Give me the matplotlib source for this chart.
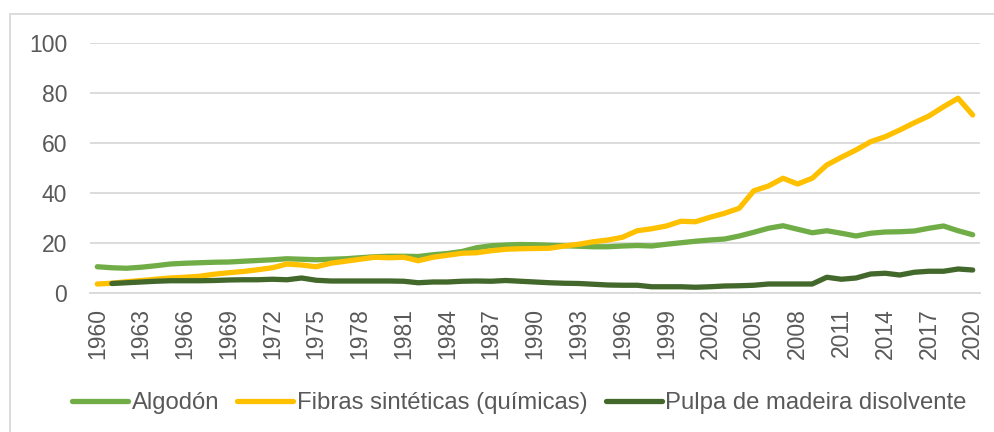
import numpy as np
import matplotlib
matplotlib.use("Agg")
import matplotlib.pyplot as plt
from matplotlib.patches import Rectangle

plt.rcParams['font.family'] = ['Liberation Sans', 'DejaVu Sans']

years = list(range(1960, 2021))

algodon = [10.5, 10.1, 9.9, 10.3, 10.9, 11.6, 11.9, 12.1, 12.3, 12.4,
           12.7, 13.0, 13.3, 13.7, 13.5, 13.3, 13.5, 13.7, 14.1, 14.5,
           14.7, 14.7, 14.6, 15.3, 15.8, 16.6, 18.1, 18.9, 19.2, 19.4,
           19.3, 19.1, 18.9, 18.7, 18.5, 18.5, 18.8, 19.0, 18.8, 19.5,
           20.1, 20.7, 21.2, 21.6, 22.8, 24.3, 25.9, 26.9, 25.5, 24.1,
           24.9, 23.9, 22.8, 23.9, 24.4, 24.5, 24.8, 25.9, 26.8, 24.9,
           23.3]

fibras = [3.6, 3.9, 4.5, 5.0, 5.5, 6.0, 6.3, 6.7, 7.5, 8.1,
          8.6, 9.3, 10.1, 11.6, 11.2, 10.5, 11.9, 12.7, 13.5, 14.3,
          14.1, 14.3, 12.9, 14.3, 15.1, 15.9, 16.1, 16.9, 17.5, 17.7,
          17.8, 17.9, 18.8, 19.5, 20.5, 21.2, 22.3, 24.9, 25.7, 26.8,
          28.7, 28.5, 30.3, 31.9, 33.9, 40.9, 42.8, 45.9, 43.6, 45.9,
          51.2, 54.3, 57.2, 60.5, 62.5, 65.2, 68.1, 70.8, 74.5, 77.9,
          71.2]

pulpa = [np.nan, 3.8, 4.1, 4.4, 4.7, 4.9, 4.9, 4.9, 5.0, 5.2,
         5.3, 5.3, 5.5, 5.3, 6.0, 5.1, 4.8, 4.8, 4.8, 4.8,
         4.8, 4.7, 4.1, 4.4, 4.4, 4.7, 4.8, 4.7, 5.0, 4.7,
         4.4, 4.1, 3.9, 3.8, 3.5, 3.2, 3.1, 3.1, 2.5, 2.5,
         2.5, 2.3, 2.5, 2.8, 2.9, 3.1, 3.6, 3.6, 3.6, 3.6,
         6.3, 5.5, 6.0, 7.6, 7.9, 7.2, 8.3, 8.7, 8.7, 9.6,
         9.2]

series_names = ["Algodón", "Fibras sintéticas (químicas)", "Pulpa de madeira disolvente"]
colors = ["#70AD47", "#FFC000", "#43682B"]
y_ticks = [0, 20, 40, 60, 80, 100]

W, H = 995, 432
fig = plt.figure(figsize=(W / 100, H / 100), dpi=100)
ax = fig.add_axes([90 / W, 1 - 293 / H, 890 / W, 250 / H])

x = np.arange(len(years))
for vals, name, c in zip([algodon, fibras, pulpa], series_names, colors):
    ax.plot(x, vals, color=c, lw=3.8, label=name,
            solid_capstyle='round', solid_joinstyle='round', zorder=3)

ax.set_xlim(-0.5, len(years) - 0.5)
ax.set_ylim(0, 100)
ax.set_yticks(y_ticks)
ax.set_yticklabels([str(v) for v in y_ticks])
tick_idx = list(range(0, len(years), 3))
ax.set_xticks(tick_idx)
ax.set_xticklabels([str(years[i]) for i in tick_idx], rotation=90)

ax.grid(axis='y', color='#D9D9D9', lw=1.3, zorder=0)
for s in ['top', 'right', 'left']:
    ax.spines[s].set_visible(False)
ax.spines['bottom'].set_color('#D9D9D9')
ax.spines['bottom'].set_linewidth(1.3)
ax.tick_params(axis='both', length=0, colors='#595959', labelsize=16.5)
ax.tick_params(axis='y', pad=16.5)
ax.tick_params(axis='x', pad=11)

leg = fig.legend(loc='center', bbox_to_anchor=(0.522, 1 - 403 / H), ncol=3,
                 frameon=False, fontsize=17.2, handlelength=2.35,
                 handletextpad=0.15, columnspacing=0.75,
                 labelcolor='#595959')

fig.patches.append(Rectangle((10 / W, -0.1), 1.2, 1 - 14 / H + 0.1,
                             transform=fig.transFigure, fill=False,
                             edgecolor='#D9D9D9', lw=1.3))

fig.savefig("out.png", dpi=100)
